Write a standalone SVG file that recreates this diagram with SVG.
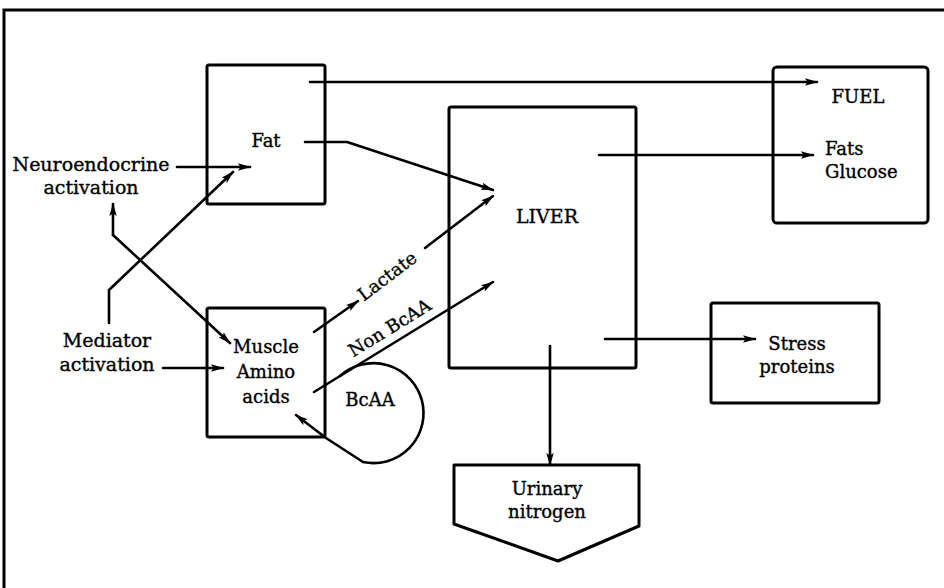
<svg xmlns="http://www.w3.org/2000/svg" width="944" height="588" viewBox="0 0 944 588">
<defs>
<marker id="ah" markerUnits="userSpaceOnUse" markerWidth="14" markerHeight="9" refX="12" refY="4.5" orient="auto">
<path d="M0,0.8 L13,4.5 L0,8.2 L2.5,4.5 z" fill="#000"/>
</marker>
<style>
.box{fill:none;stroke:#000;stroke-width:3;stroke-linejoin:round}
.ln{fill:none;stroke:#000;stroke-width:2.6;stroke-linejoin:round;stroke-linecap:round}
text{font-family:"DejaVu Serif","Liberation Serif",serif;font-size:18px;fill:#000;stroke:#000;stroke-width:0.35}
.c{text-anchor:middle}
</style>
</defs>
<rect width="944" height="588" fill="#fff"/>
<g id="frame">
<path d="M4,588 V10 H944" fill="none" stroke="#000" stroke-width="3"/>
</g>
<g id="fat">
<rect class="box" x="207" y="65" width="118" height="139" rx="2"/>
<text class="c" x="266" y="147">Fat</text>
</g>
<g id="neuro">
<text class="c" x="91" y="171" style="font-size:19px">Neuroendocrine</text>
<text class="c" x="91" y="194" style="font-size:19px">activation</text>
</g>
<g id="mediator">
<text class="c" x="107" y="347" style="font-size:19px">Mediator</text>
<text class="c" x="107" y="371" style="font-size:19px">activation</text>
</g>
<g id="muscle">
<rect class="box" x="207" y="308" width="118" height="129" rx="2"/>
<text class="c" x="266" y="353">Muscle</text>
<text class="c" x="266" y="378">Amino</text>
<text class="c" x="266" y="403">acids</text>
</g>
<g id="bcaa">
<path class="ln" d="M340,376 A50,50 0 1 1 363,462"/>
<text class="c" x="370" y="406">BcAA</text>
</g>
<g id="liver">
<rect class="box" x="449" y="107" width="187" height="261" rx="2"/>
<text class="c" x="547" y="223" style="font-size:19px">LIVER</text>
</g>
<g id="fuel">
<rect class="box" x="773" y="67" width="155" height="156" rx="4"/>
<text class="c" x="858" y="103">FUEL</text>
<text x="825" y="155">Fats</text>
<text x="825" y="178">Glucose</text>
</g>
<g id="stress">
<rect class="box" x="711" y="303" width="168" height="100" rx="2"/>
<text class="c" x="797" y="350">Stress</text>
<text class="c" x="797" y="373">proteins</text>
</g>
<g id="urinary">
<path class="box" d="M454,465 H639 V526 L558,561 L454,524 Z"/>
<text class="c" x="547" y="495">Urinary</text>
<text class="c" x="547" y="518">nitrogen</text>
</g>
<g id="connectors">
<path class="ln" d="M310,82 H817" marker-end="url(#ah)"/>
<path class="ln" d="M305,142 H347 L493,190" marker-end="url(#ah)"/>
<path class="ln" d="M177,167 H250" marker-end="url(#ah)"/>
<path class="ln" d="M109,323 V290 L233,172" marker-end="url(#ah)"/>
<path class="ln" d="M113,235 V204" marker-end="url(#ah)"/>
<path class="ln" d="M113,235 L230,343" marker-end="url(#ah)"/>
<path class="ln" d="M163,368 H223" marker-end="url(#ah)"/>
<path class="ln" d="M314,332 L358,301" marker-end="url(#ah)"/>
<path class="ln" d="M425,248 L493,196" marker-end="url(#ah)"/>
<text transform="translate(391,281) rotate(-37.2)" class="c">Lactate</text>
<path class="ln" d="M314,392 L493,282" marker-end="url(#ah)"/>
<text transform="translate(393,333) rotate(-31.6)" class="c">Non BcAA</text>
<path class="ln" d="M363,462 L326,438 L296,415" marker-end="url(#ah)"/>
<path class="ln" d="M599,155 H813" marker-end="url(#ah)"/>
<path class="ln" d="M605,339 H755" marker-end="url(#ah)"/>
<path class="ln" d="M550,346 V465" marker-end="url(#ah)"/>
</g>
</svg>
